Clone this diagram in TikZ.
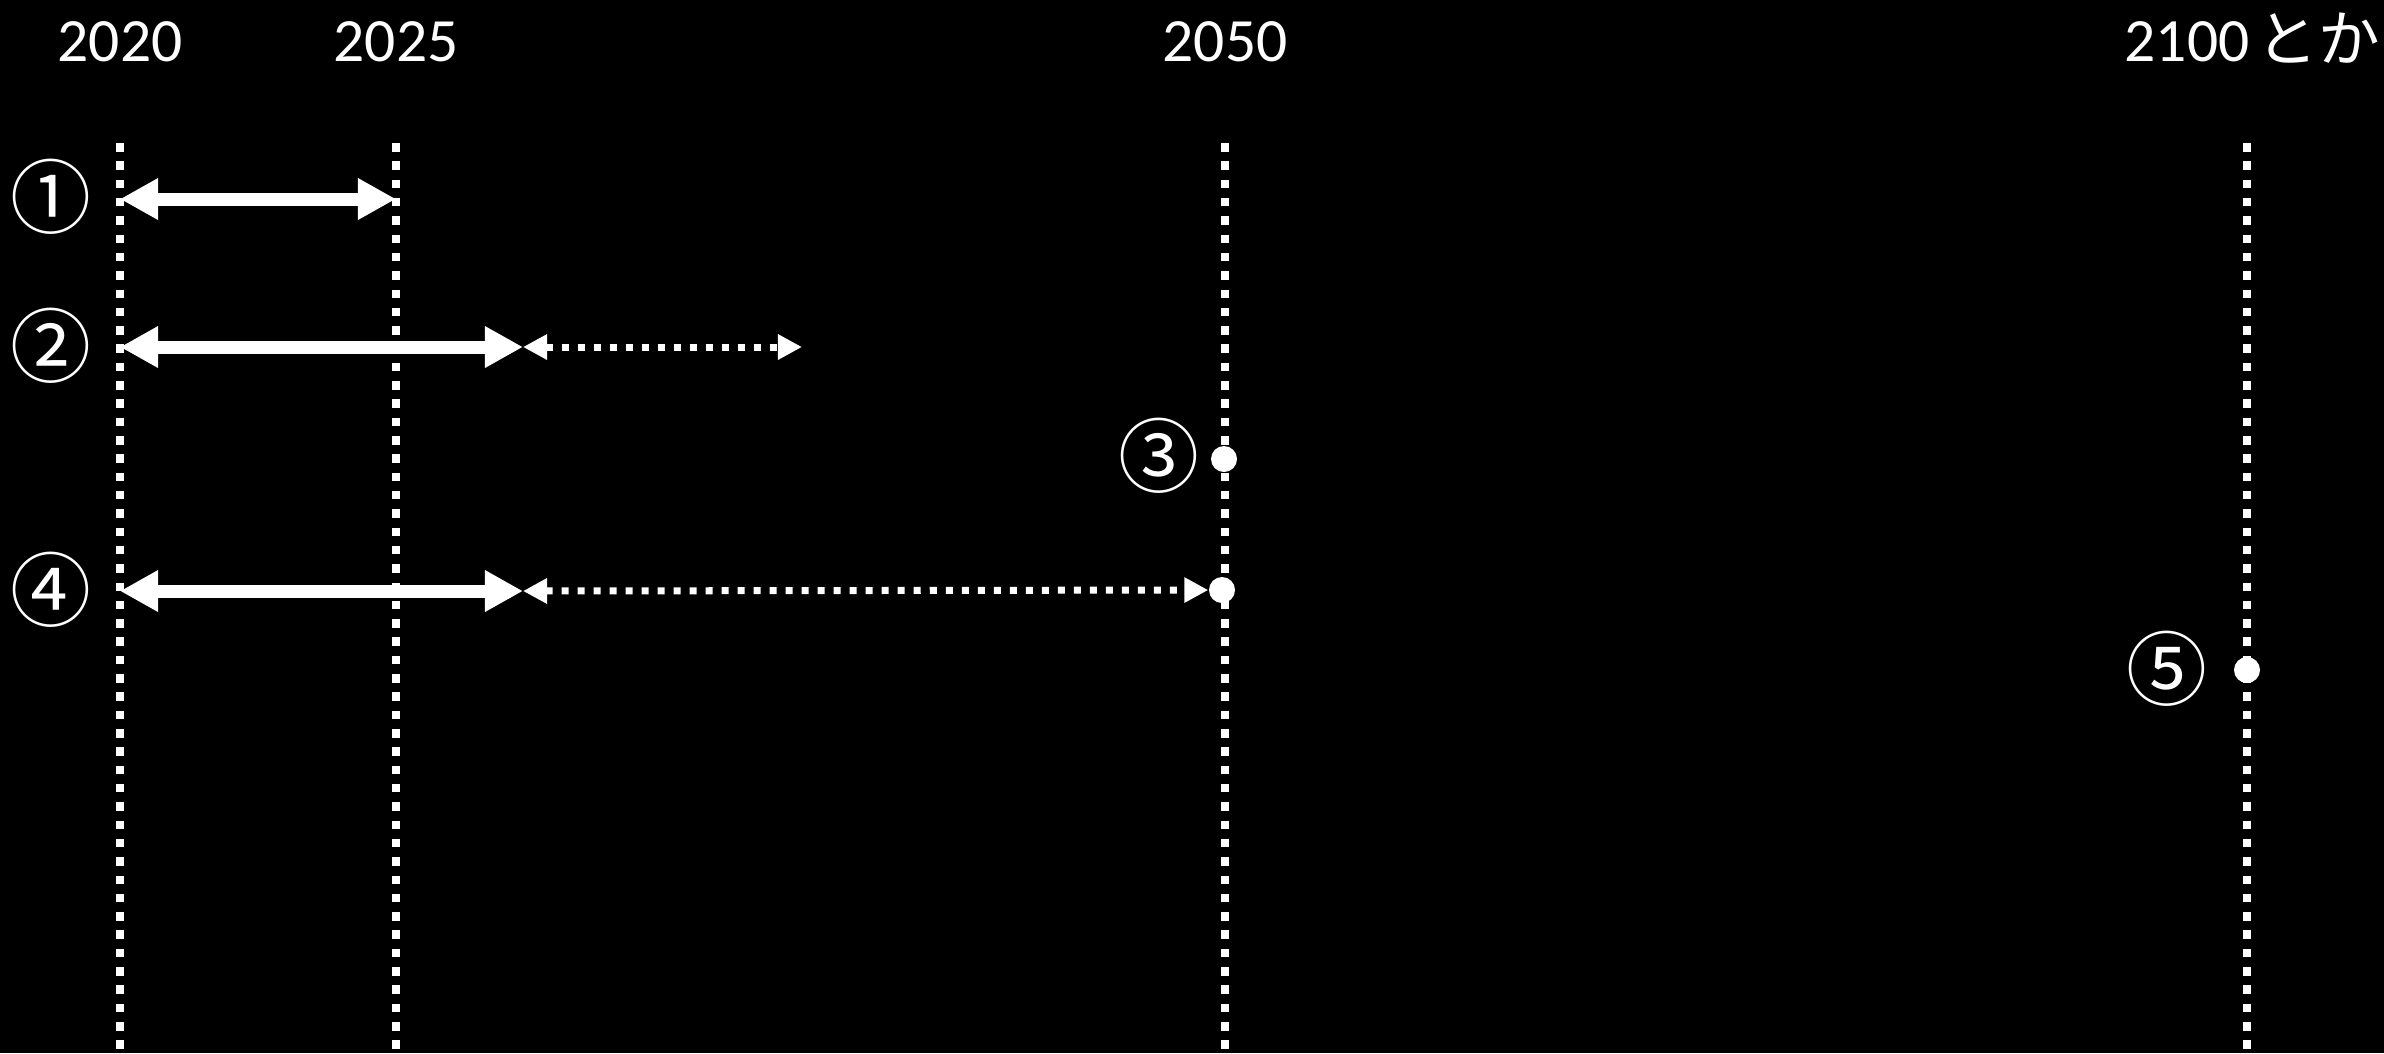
\documentclass[tikz,border=0pt]{standalone}
\usepackage{fontspec}
\setmainfont{Carlito}
\newfontfamily\jpfont{Noto Sans CJK JP}
\usetikzlibrary{arrows.meta}

\begin{document}
\begin{tikzpicture}[x=0.01cm, y=-0.01cm]

      \tikzset{year/.style = {text=white, font=\fontsize{17.5}{21}\selectfont, inner sep=0pt, anchor=base}}
      \tikzset{num/.style = {text=white, font=\jpfont\fontsize{23}{25}\selectfont, inner sep=0pt}}
      \tikzset{gridline/.style = {white, line width=0.085cm, dash pattern=on 0.085cm off 0.098cm}}
      \tikzset{span/.style = {white, line width=0.13cm, {Triangle[length=0.38cm,width=0.39cm]}-{Triangle[length=0.38cm,width=0.39cm]}}}
      \tikzset{later/.style = {white, line width=0.07cm, dash pattern=on 0.07cm off 0.09cm, {Triangle[length=0.24cm,width=0.24cm]}-{Triangle[length=0.24cm,width=0.24cm]}}}
      \tikzset{point/.style = {circle, fill=white, inner sep=0pt, minimum size=0.26cm}}
      \useasboundingbox (0,0) rectangle (2384,1053);
      \fill[black] (0,0) rectangle (2384,1053);
      % years
      \node[year] (l2020) at (120,61) {2020};
      \node[year] (l2025) at (396,61) {2025};
      \node[year] (l2050) at (1225,61) {2050};
      \node[year, anchor=base west] (l2100) at (2124,61) {2100\hspace{0.12em}{\jpfont とか}};
      \coordinate (t2020) at (120,143);
      \coordinate (b2020) at (120,1053);
      \coordinate (t2025) at (396,143);
      \coordinate (b2025) at (396,1053);
      \coordinate (t2050) at (1225,143);
      \coordinate (b2050) at (1225,1053);
      \coordinate (t2100) at (2247,143);
      \coordinate (b2100) at (2247,1053);
      \draw[gridline] (t2020) -- (b2020);
      \draw[gridline] (t2025) -- (b2025);
      \draw[gridline] (t2050) -- (b2050);
      \draw[gridline] (t2100) -- (b2100);
      % cases
      \node[num] (n1) at (51,197) {①};
      \node[num] (n2) at (51,346) {②};
      \node[num] (n3) at (1159,456) {③};
      \node[num] (n4) at (51,590) {④};
      \node[num] (n5) at (2167,669) {⑤};
      \node[point] (p3) at (1224,459) {};
      \node[point] (p4) at (1222,590) {};
      \node[point] (p5) at (2247,670) {};
      \coordinate (a1) at (120,199);
      \coordinate (e1) at (396,199);
      \coordinate (a2) at (120,347);
      \coordinate (m2) at (523,347);
      \coordinate (e2) at (802,347);
      \coordinate (a4) at (120,591);
      \coordinate (m4) at (523,591);
      % spans
      \draw[span] (a1) -- (e1);
      \draw[span] (a2) -- (m2);
      \draw[later] (m2) -- (e2);
      \draw[span] (a4) -- (m4);
      \draw[later] (m4) -- (p4.west);

\end{tikzpicture}
\end{document}
